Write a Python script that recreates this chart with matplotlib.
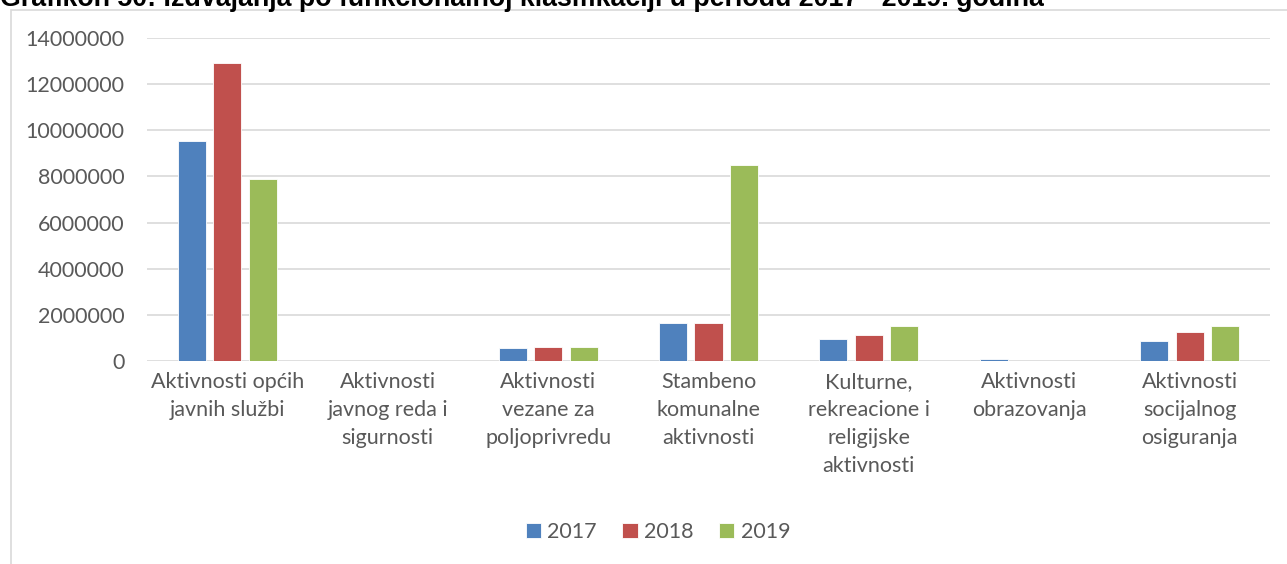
import matplotlib

matplotlib.use("Agg")
import matplotlib.pyplot as plt  # noqa: E402
import numpy as np  # noqa: E402
from matplotlib.patches import Rectangle  # noqa: E402

W, H, DPI = 1287, 564, 100

TITLE = "Grafikon 50: Izdvajanja po funkcionalnoj klasifikaciji u periodu 2017 - 2019. godina"
categories = [
    "Aktivnosti općih\njavnih službi",
    "Aktivnosti\njavnog reda i\nsigurnosti",
    "Aktivnosti\nvezane za\npoljoprivredu",
    "Stambeno\nkomunalne\naktivnosti",
    "Kulturne,\nrekreacione i\nreligijske\naktivnosti",
    "Aktivnosti\nobrazovanja",
    "Aktivnosti\nsocijalnog\nosiguranja",
]
years = ["2017", "2018", "2019"]
v2017 = [9550000, 0, 560000, 1630000, 970000, 70000, 850000]
v2018 = [12930000, 0, 590000, 1660000, 1130000, 0, 1270000]
v2019 = [7890000, 0, 590000, 8500000, 1520000, 0, 1500000]
yticks = [0, 2000000, 4000000, 6000000, 8000000, 10000000, 12000000, 14000000]

COLORS = ["#4F81BD", "#C0504D", "#9BBB59"]
GREY = "#595959"
GRID = "#D9D9D9"
FONT = "Lato"
FS = 15.5


def px(x0, y0, x1, y1):
    # pixel box (top-left origin) -> figure fraction rect
    return [x0 / W, 1 - y1 / H, (x1 - x0) / W, (y1 - y0) / H]


fig = plt.figure(figsize=(W / DPI, H / DPI), dpi=DPI)
fig.patch.set_facecolor("white")

# chart frame (only left/top edges are inside the picture)
fig.patches.append(Rectangle((10.5 / W, -0.5), 2, 1 - 10 / H + 0.5,
                             transform=fig.transFigure, fill=False,
                             edgecolor=GRID, lw=1.2))

fig.text(0, 1 - 6 / H, TITLE, family="Liberation Sans", weight="bold",
         fontsize=19.3, color="black", va="baseline", ha="left")

ax = fig.add_axes(px(147, 38, 1270, 361))
x = np.arange(len(categories))
bw = 28 / 160.4
off = 35.5 / 160.4
for i, (vals, c, yr) in enumerate(zip([v2017, v2018, v2019], COLORS, years)):
    ax.bar(x + (i - 1) * off, vals, width=bw, color=c, edgecolor="white",
           linewidth=0.6, label=yr, zorder=3)

ax.set_xlim(-0.5, len(categories) - 0.5)
ax.set_ylim(0, 14000000)
ax.set_yticks(yticks)
ax.set_yticklabels([str(v) for v in yticks], family=FONT, fontsize=FS, color=GREY)
ax.set_xticks(x)
ax.set_xticklabels(categories, family=FONT, fontsize=FS, color=GREY, linespacing=1.5)
ax.tick_params(axis="both", length=0)
ax.tick_params(axis="y", pad=16)
ax.tick_params(axis="x", pad=8)
ax.grid(axis="y", color=GRID, lw=1.2, zorder=0)
for s in ax.spines.values():
    s.set_visible(False)

fig.legend(loc="center", bbox_to_anchor=(658 / W, 1 - 532 / H), ncol=3,
           frameon=False, prop={"family": FONT, "size": FS},
           labelcolor=GREY, handlelength=0.7, handleheight=0.7,
           handletextpad=0.3, columnspacing=1.2)

fig.savefig("out.png", dpi=DPI)
